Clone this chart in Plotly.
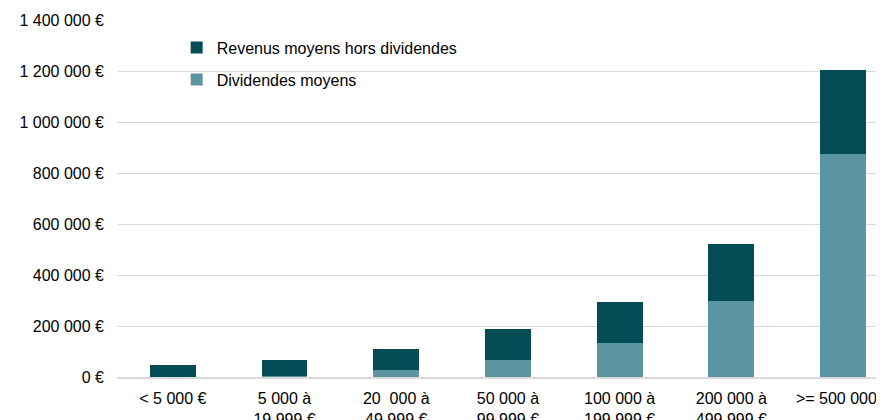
import plotly.graph_objects as go

categories = ["< 5 000 €", "5 000 à<br>19 999 €", "20\u00a0 000 à<br>49 999 €", "50 000 à<br>99 999 €",
              "100 000 à<br>199 999 €", "200 000 à<br>499 999 €", ">= 500 000 €"]
dividendes = [1000, 4000, 29000, 67000, 134000, 299000, 876000]
revenus_hors_div = [48000, 61000, 79000, 121000, 161000, 221000, 328000]
y_tickvals = [0, 200000, 400000, 600000, 800000, 1000000, 1200000, 1400000]
y_ticktext = ["0 €", "200 000 €", "400 000 €", "600 000 €", "800 000 €", "1 000 000 €", "1 200 000 €", "1 400 000 €"]

x_idx = list(range(len(categories)))

fig = go.Figure()
fig.add_trace(go.Bar(x=x_idx, y=dividendes, name="Dividendes moyens",
                     marker=dict(color="#5B95A2", line=dict(width=0)),
                     legendgroup="g2", legendrank=2))
fig.add_trace(go.Bar(x=x_idx, y=revenus_hors_div, name="Revenus moyens hors dividendes",
                     marker=dict(color="#034B55", line=dict(width=0)),
                     legendgroup="g1", legendrank=1))

font = dict(family="Liberation Sans, Arial, sans-serif", size=16, color="#000000")

fig.update_layout(
    width=884, height=420,
    margin=dict(l=109, r=0, t=12, b=51, autoexpand=False),
    barmode="stack", bargap=0.59,
    plot_bgcolor="white", paper_bgcolor="white",
    font=font,
    showlegend=True,
    legend=dict(x=0.077, y=0.97, xanchor="left", yanchor="top", traceorder="grouped",
                tracegroupgap=8, bgcolor="rgba(0,0,0,0)", font=font,
                itemwidth=30),
    xaxis=dict(tickmode="array", tickvals=x_idx, ticktext=categories, range=[-0.5, 6.438],
               showgrid=False, showline=True, linecolor="#d9d9d9", linewidth=1.5,
               ticks="", ticklabelstandoff=6, zeroline=False, automargin=False,
               ticklabeloverflow="allow"),
    yaxis=dict(tickmode="array", tickvals=y_tickvals, ticktext=y_ticktext, range=[0, 1400000],
               showgrid=True, gridcolor="#d9d9d9", gridwidth=1, zeroline=False,
               showline=False, ticks="", ticklabelstandoff=12, automargin=False,
               ticklabeloverflow="allow"),
)

fig.write_html("out.html")
